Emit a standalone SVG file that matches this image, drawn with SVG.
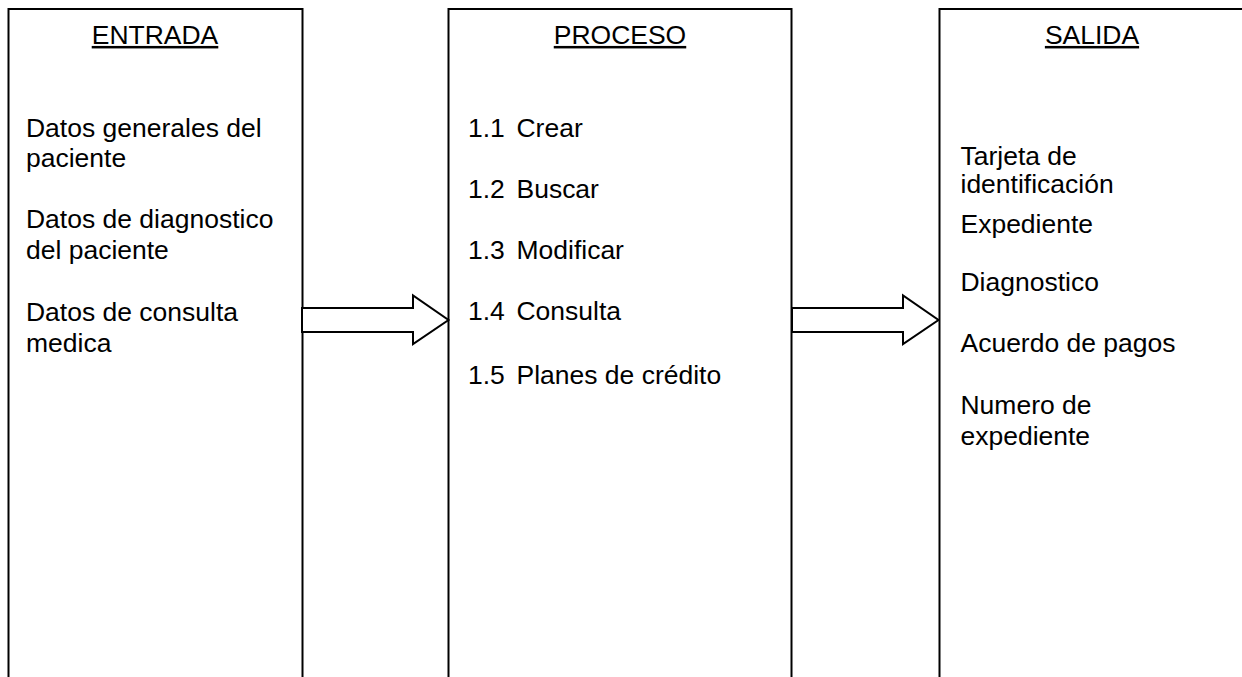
<svg xmlns="http://www.w3.org/2000/svg" width="1242" height="677" viewBox="0 0 1242 677">
<style>
.box{fill:#fff;stroke:#000;stroke-width:2}
.arrow{fill:#fff;stroke:#000;stroke-width:2;stroke-linejoin:miter}
text{font-family:"Liberation Sans",Arial,sans-serif;font-size:25px;fill:#000}
.hdr{text-anchor:middle;text-decoration:underline}
</style>
<rect width="1242" height="677" fill="#fff"/>
<g id="entrada">
<rect class="box" x="8.5" y="9" width="294" height="720"/>
<g transform="scale(1.06 1)">
<text class="hdr" x="146.23" y="44">ENTRADA</text>
<text x="24.53" y="137.5">Datos generales del</text>
<text x="24.53" y="167">paciente</text>
<text x="24.53" y="228">Datos de diagnostico</text>
<text x="24.53" y="259">del paciente</text>
<text x="24.53" y="321.5">Datos de consulta</text>
<text x="24.53" y="352">medica</text>
</g>
</g>
<g id="proceso">
<rect class="box" x="448.5" y="9" width="343" height="720"/>
<g transform="scale(1.06 1)">
<text class="hdr" x="584.91" y="44">PROCESO</text>
<text x="441.51" y="137">1.1</text><text x="487.26" y="137">Crear</text>
<text x="441.51" y="198">1.2</text><text x="487.26" y="198">Buscar</text>
<text x="441.51" y="259">1.3</text><text x="487.26" y="259">Modificar</text>
<text x="441.51" y="320.5">1.4</text><text x="487.26" y="320.5">Consulta</text>
<text x="441.51" y="384">1.5</text><text x="487.26" y="384">Planes de crédito</text>
</g>
</g>
<g id="salida">
<rect class="box" x="939.5" y="9" width="320" height="720"/>
<g transform="scale(1.06 1)">
<text class="hdr" x="1030.19" y="44">SALIDA</text>
<text x="906.13" y="165">Tarjeta de</text>
<text x="906.13" y="193.5">identificación</text>
<text x="906.13" y="233">Expediente</text>
<text x="906.13" y="291.5">Diagnostico</text>
<text x="906.13" y="352.5">Acuerdo de pagos</text>
<text x="906.13" y="414.5">Numero de</text>
<text x="906.13" y="445">expediente</text>
</g>
</g>
<g id="connectors">
<polygon class="arrow" points="302,308 413,308 413,295.5 448.5,320 413,344 413,332 302,332"/>
<polygon class="arrow" points="792,308 903,308 903,295.5 938.5,320 903,344 903,332 792,332"/>
</g>
</svg>
